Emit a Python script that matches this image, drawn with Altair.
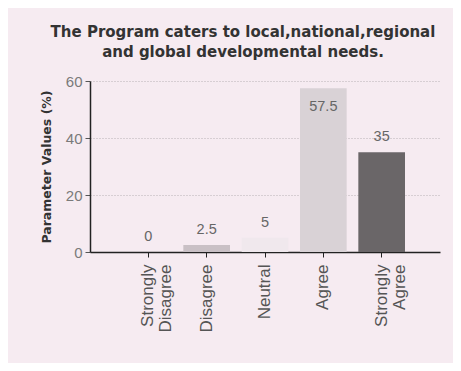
import altair as alt
import pandas as pd

categories = ["Strongly Disagree", "Disagree", "Neutral", "Agree", "Strongly Agree"]
values = [0, 2.5, 5, 57.5, 35]
bar_colors = ["#e9dfe5", "#c9c0c5", "#f0e8ed", "#d9d2d6", "#6a6668"]
y_ticks = [0, 20, 40, 60]

df = pd.DataFrame({"category": categories, "value": values})

BG = "#f6ebf1"
FONT = "Liberation Sans"

x = alt.X(
    "category:N",
    sort=categories,
    scale=alt.Scale(paddingInner=0.2, paddingOuter=0.6),
    axis=alt.Axis(
        title=None,
        labelAngle=270,
        labelAlign="right",
        labelBaseline="middle",
        labelExpr="split(datum.label, ' ')",
        labelFont=FONT,
        labelFontSize=17,
        labelColor="#555555",
        labelPadding=7,
        labelLineHeight=18,
        domainColor="#222222",
        domainWidth=1.5,
        tickColor="#222222",
        tickSize=5,
        grid=False,
    ),
)

bars = alt.Chart(df).mark_bar().encode(
    x=x,
    y=alt.Y(
        "value:Q",
        scale=alt.Scale(domain=[0, 60], nice=False),
        axis=alt.Axis(
            title="Parameter Values (%)",
            titleFont="DejaVu Sans",
            titleFontSize=12.5,
            titleFontWeight="bold",
            titleColor="#333333",
            titlePadding=12,
            values=y_ticks,
            labelFont=FONT,
            labelFontSize=15,
            labelColor="#7a7a7a",
            labelPadding=3,
            domainColor="#222222",
            domainWidth=1.5,
            tickColor="#555555",
            tickSize=5,
            grid=True,
            gridColor="#b8b0b4",
            gridDash=[1, 2],
            gridWidth=1,
        ),
    ),
    color=alt.Color(
        "category:N",
        sort=categories,
        scale=alt.Scale(domain=categories, range=bar_colors),
        legend=None,
    ),
)

labels = alt.Chart(df).transform_calculate(
    labelpos="datum.value > 50 ? datum.value - 12 : datum.value"
).mark_text(
    font=FONT, fontSize=14.5, color="#666666", baseline="middle", dy=-15
).encode(
    x=alt.X("category:N", sort=categories),
    y=alt.Y("labelpos:Q"),
    text=alt.Text("value:Q"),
)

chart = (
    alt.layer(bars, labels)
    .properties(
        width=350,
        height=171,
        background=BG,
        padding={"left": 82, "top": 73, "right": 13, "bottom": 111},
        autosize=alt.AutoSizeParams(type="none"),
        title=alt.TitleParams(
            text=["The Program caters to local,national,regional", "and global developmental needs."],
            font="DejaVu Sans",
            fontSize=15,
            fontWeight="bold",
            color="#333333",
            anchor="middle",
            dx=-22,
            offset=14,
            lineHeight=20,
        ),
    )
    .configure_view(stroke=None)
)

chart.save("out.html", embed_options={"renderer": "svg", "actions": False})
